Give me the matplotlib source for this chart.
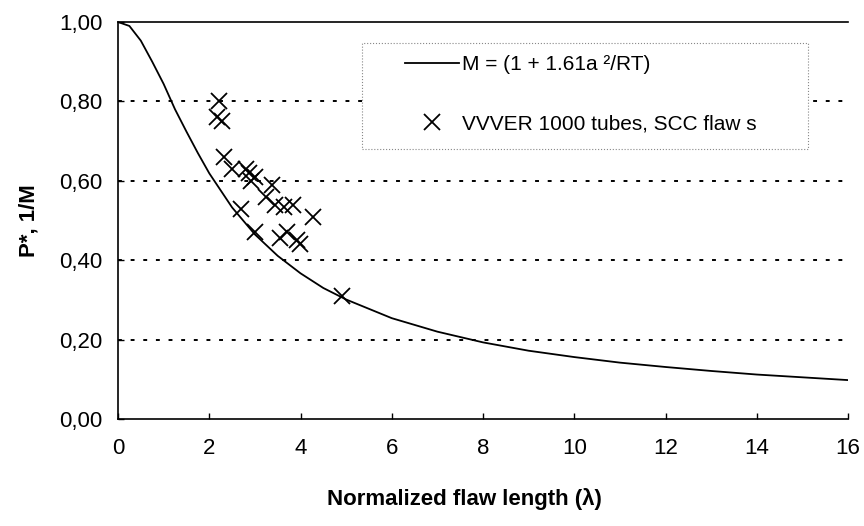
import matplotlib
matplotlib.use("Agg")
import matplotlib.pyplot as plt
from matplotlib.patches import Rectangle

plt.rcParams['font.family'] = ['Liberation Sans', 'DejaVu Sans']

# curve 1/M
lam = [0, 0.25, 0.5, 0.75, 1.0, 1.25, 1.5, 1.75, 2.0, 2.5, 3.0, 3.5, 4.0, 4.5, 5.0,
       6.0, 7.0, 8.0, 9.0, 10.0, 11.0, 12.0, 13.0, 14.0, 15.0, 16.0]
inv_m = [1.0, 0.99, 0.953, 0.90, 0.844, 0.78, 0.724, 0.67, 0.619, 0.533, 0.465, 0.411,
         0.367, 0.33, 0.301, 0.254, 0.22, 0.193, 0.172, 0.156, 0.142, 0.131, 0.121,
         0.112, 0.105, 0.098]

# VVER 1000 tube data (SCC flaws)
flaw_x = [2.22, 2.17, 2.27, 2.32, 2.5, 2.8, 2.88, 2.92, 3.0, 3.38, 3.25, 3.45, 3.63,
          3.84, 4.28, 2.7, 3.0, 3.55, 3.7, 3.92, 3.99, 4.91]
flaw_y = [0.80, 0.76, 0.75, 0.66, 0.63, 0.63, 0.62, 0.60, 0.61, 0.59, 0.56, 0.54,
          0.535, 0.54, 0.51, 0.53, 0.47, 0.455, 0.47, 0.45, 0.44, 0.31]

xticks = [0, 2, 4, 6, 8, 10, 12, 14, 16]
yticks = [0.0, 0.2, 0.4, 0.6, 0.8, 1.0]
ytick_labels = ['0,00', '0,20', '0,40', '0,60', '0,80', '1,00']

fig = plt.figure(figsize=(8.64, 5.26), dpi=100)
ax = fig.add_axes([118/864, 1-419/526, 730/864, 397/526])

ax.plot(lam, inv_m, color='black', lw=1.3, label='M = (1 + 1.61a \u00b2/RT)')
ax.plot(flaw_x, flaw_y, 'x', color='black', ms=11, mew=1.3, label='VVVER 1000 tubes, SCC flaw s')

ax.set_xlim(0, 16)
ax.set_ylim(0, 1)
ax.set_xticks(xticks)
ax.set_yticks(yticks)
ax.set_yticklabels(ytick_labels)

# dotted horizontal gridlines
for v in yticks[1:-1]:
    ax.axhline(v, color='black', lw=1.4, ls=(0, (2, 4.5)), zorder=0)

ax.spines['right'].set_visible(False)
for s in ['left', 'bottom', 'top']:
    ax.spines[s].set_linewidth(1.2)

ax.tick_params(axis='both', direction='in', length=4, width=1, labelsize=16)
ax.tick_params(axis='x', pad=14)
ax.tick_params(axis='y', pad=11)

ax.set_xlabel('Normalized flaw length (\u03bb)', fontsize=16, fontweight='bold')
ax.xaxis.set_label_coords(0.475, -0.175)
ax.set_ylabel('P*, 1/M', fontsize=16, fontweight='bold')
ax.yaxis.set_label_coords(-0.107, 0.5)

# legend box (drawn separately, thin dotted frame)
ax.add_patch(Rectangle((0.334, 0.68), 0.611, 0.267, transform=ax.transAxes,
                       fill=True, facecolor='white', edgecolor='#888888',
                       lw=0.8, ls=':', zorder=3))
leg = ax.legend(loc='upper left', bbox_to_anchor=(0.393, 0.917), fontsize=15,
                frameon=False, handlelength=2.6, labelspacing=1.95,
                borderpad=0, borderaxespad=0, handletextpad=0.15)
leg.set_zorder(4)

fig.savefig('out.png', dpi=100)
